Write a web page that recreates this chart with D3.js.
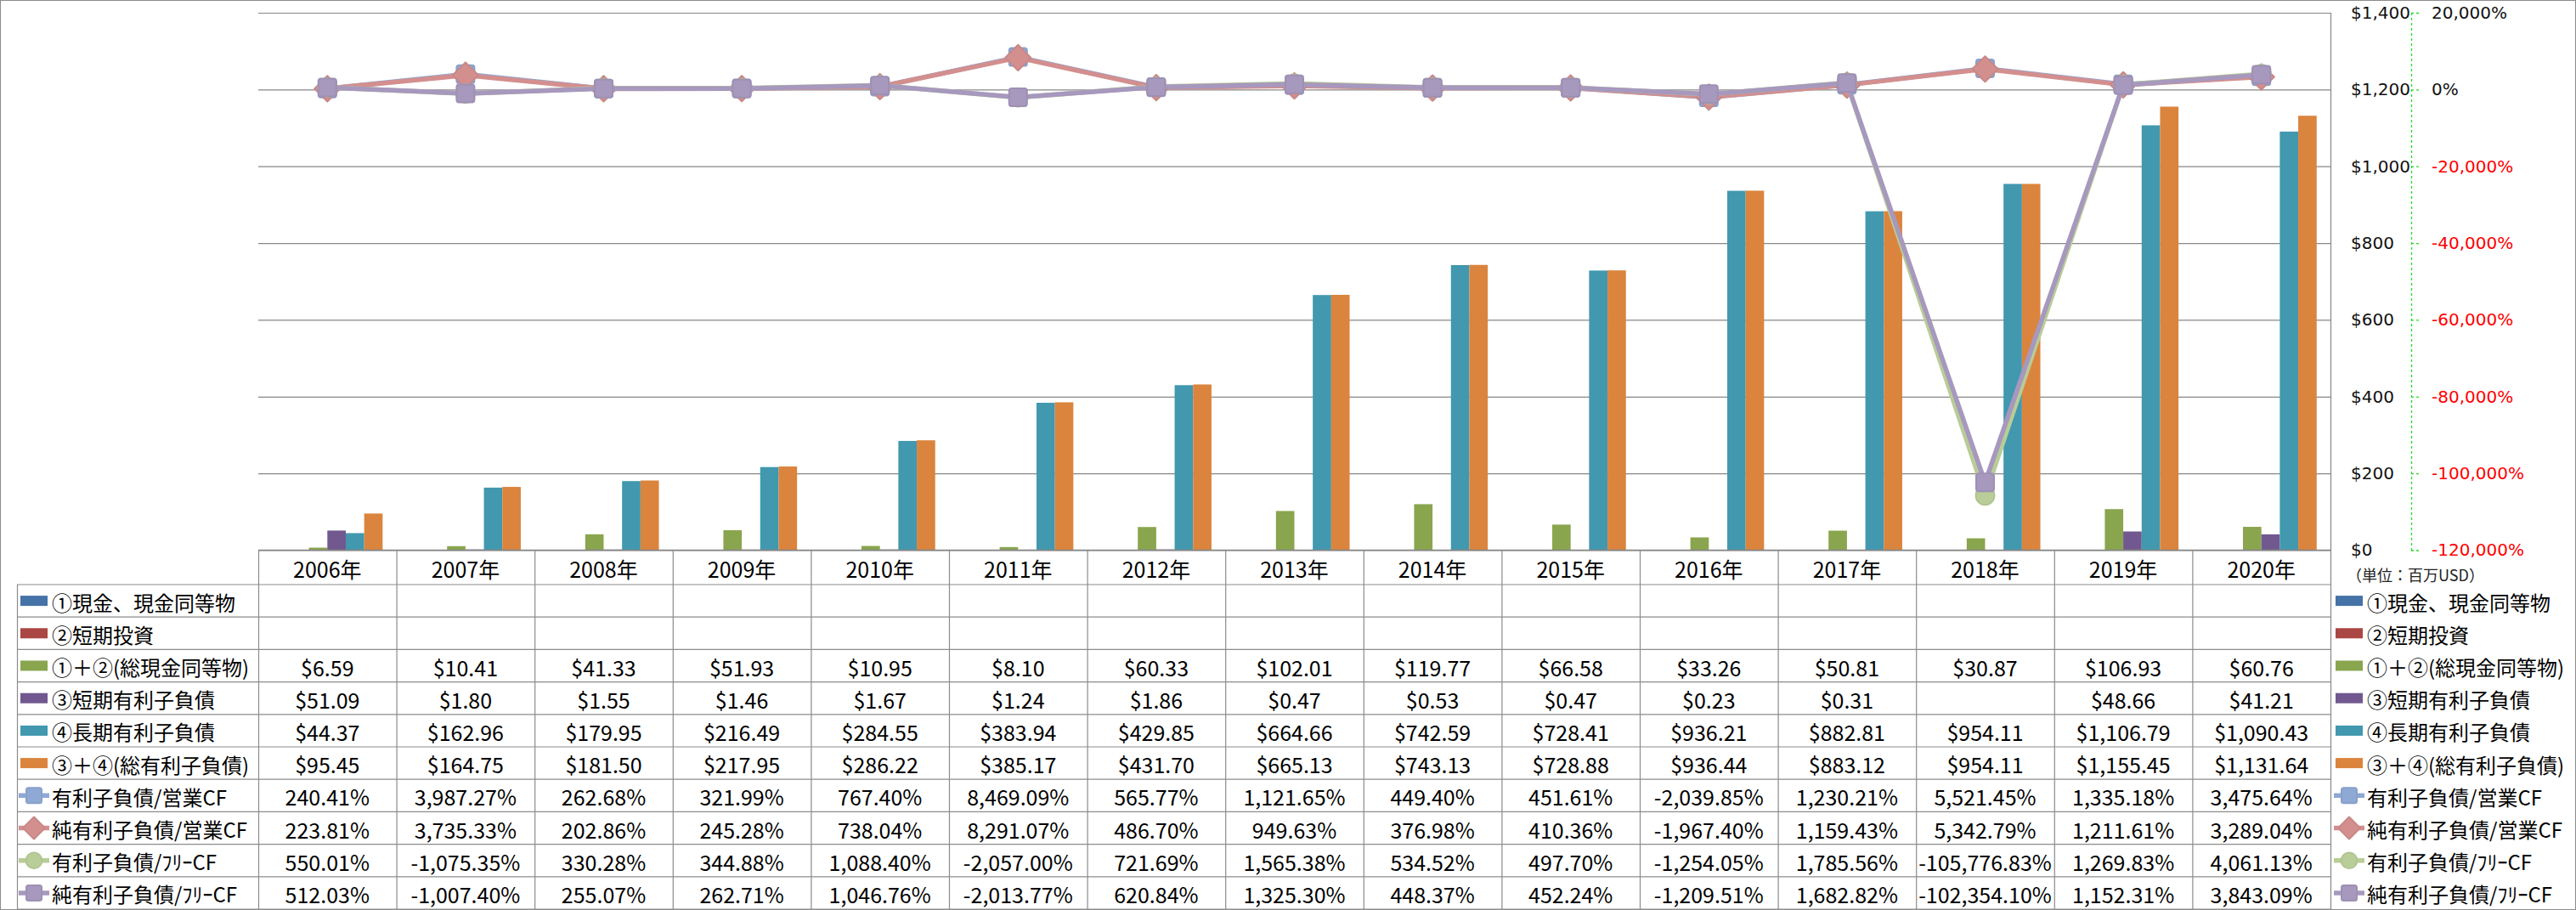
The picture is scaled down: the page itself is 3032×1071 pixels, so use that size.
<!DOCTYPE html>
<html><head><meta charset="utf-8">
<script src="https://cdn.jsdelivr.net/npm/d3@7"></script>
<style>body{margin:0;background:#fff} svg{display:block}</style>
</head><body>
<svg id="c" width="3032" height="1071"></svg>
<script>
// ---------------- data ----------------
const years = ["2006年","2007年","2008年","2009年","2010年","2011年","2012年","2013年","2014年","2015年","2016年","2017年","2018年","2019年","2020年"];
const seriesNames = ["①現金、現金同等物","②短期投資","①＋②(総現金同等物)","③短期有利子負債","④長期有利子負債","③＋④(総有利子負債)",
  "有利子負債/営業CF","純有利子負債/営業CF","有利子負債/ﾌﾘｰCF","純有利子負債/ﾌﾘｰCF"];
const cashEquivalents = [null,null,null,null,null,null,null,null,null,null,null,null,null,null,null];
const shortTermInvest = [null,null,null,null,null,null,null,null,null,null,null,null,null,null,null];
const totalCash = [6.59,10.41,41.33,51.93,10.95,8.10,60.33,102.01,119.77,66.58,33.26,50.81,30.87,106.93,60.76];
const shortTermDebt = [51.09,1.80,1.55,1.46,1.67,1.24,1.86,0.47,0.53,0.47,0.23,0.31,null,48.66,41.21];
const longTermDebt = [44.37,162.96,179.95,216.49,284.55,383.94,429.85,664.66,742.59,728.41,936.21,882.81,954.11,1106.79,1090.43];
const totalDebt = [95.45,164.75,181.50,217.95,286.22,385.17,431.70,665.13,743.13,728.88,936.44,883.12,954.11,1155.45,1131.64];
const debtToOCF = [240.41,3987.27,262.68,321.99,767.40,8469.09,565.77,1121.65,449.40,451.61,-2039.85,1230.21,5521.45,1335.18,3475.64];
const netDebtToOCF = [223.81,3735.33,202.86,245.28,738.04,8291.07,486.70,949.63,376.98,410.36,-1967.40,1159.43,5342.79,1211.61,3289.04];
const debtToFCF = [550.01,-1075.35,330.28,344.88,1088.40,-2057.00,721.69,1565.38,534.52,497.70,-1254.05,1785.56,-105776.83,1269.83,4061.13];
const netDebtToFCF = [512.03,-1007.40,255.07,262.71,1046.76,-2013.77,620.84,1325.30,448.37,452.24,-1209.51,1682.82,-102354.10,1152.31,3843.09];
const leftTicks = [0,200,400,600,800,1000,1200,1400];
const rightTicks = [-120000,-100000,-80000,-60000,-40000,-20000,0,20000];
const unitLabel = "（単位：百万USD）";

const barData = [cashEquivalents, shortTermInvest, totalCash, shortTermDebt, longTermDebt, totalDebt];
const lineData = [debtToOCF, netDebtToOCF, debtToFCF, netDebtToFCF];

// ---------------- styles ----------------
const barColors = ["#4572A7","#AA4643","#89A54E","#71588F","#4198AF","#DB843D"];
const lineColors = ["#8FA9D5","#D38F8E","#B8CD97","#A798BE"];
const markerTypes = ["square","diamond","circle","square"];
const FONT = "'Noto Sans CJK JP','Noto Sans',sans-serif";

const W = 3032, H = 1071;
const plot = {l:304, r:2743, t:15, b:647.5};
const tableTop = 688, rowH = 38.2, tableLeft = 20;
const tableBottom = tableTop + rowH*10;

const loc = d3.formatLocale({decimal:".", thousands:",", grouping:[3], currency:["$",""], minus:"-"});
const fMoney = loc.format("$,.2f");
const fPct = v => loc.format(",.2f")(v) + "%";
const fAxisL = loc.format("$,.0f");
const fAxisR = v => loc.format(",.0f")(v) + "%";

const svg = d3.select("#c");
svg.append("rect").attr("width",W).attr("height",H).attr("fill","#fff");
svg.append("rect").attr("x",0.5).attr("y",0.5).attr("width",W-1).attr("height",H-1)
  .attr("fill","none").attr("stroke","#8c8c8c");

const x = d3.scaleBand().domain(years).range([plot.l, plot.r]);
const bw = x.bandwidth();
const xi = d3.scaleBand().domain(d3.range(barData.length)).range([bw*0.1, bw*0.9]);
const y = d3.scaleLinear().domain([0,1400]).range([plot.b, plot.t]);
const y2 = d3.scaleLinear().domain([-120000,20000]).range([plot.b, plot.t]);

// gridlines + left values axis (drawn at right side)
const gAxL = svg.append("g").attr("transform",`translate(${plot.r},0)`)
  .call(d3.axisRight(y).tickValues(leftTicks).tickSize(-(plot.r-plot.l)).tickSizeOuter(0).tickFormat(fAxisL));
gAxL.select(".domain").remove();
gAxL.selectAll(".tick line").attr("stroke","#878787").attr("stroke-width",1.2);
gAxL.selectAll(".tick text").attr("x",24).attr("text-anchor","start")
  .attr("font-family","'DejaVu Sans',Verdana,sans-serif").attr("font-size",20).attr("fill","#111");

// plot right border
svg.append("line").attr("x1",plot.r+0.5).attr("x2",plot.r+0.5).attr("y1",plot.t).attr("y2",tableBottom)
  .attr("stroke","#878787").attr("stroke-width",1.2);

// secondary axis
const gAxR = svg.append("g").attr("transform",`translate(2838,0)`)
  .call(d3.axisRight(y2).tickValues(rightTicks).tickSize(9).tickSizeOuter(0).tickFormat(fAxisR));
gAxR.select(".domain").attr("stroke","#22dd22").attr("stroke-width",1.3).attr("stroke-dasharray","3,3");
gAxR.selectAll(".tick line").attr("stroke","#22dd22").attr("stroke-width",1.3).attr("stroke-dasharray","3,3");
gAxR.selectAll(".tick text").attr("x",24).attr("text-anchor","start")
  .attr("font-family","'DejaVu Sans',Verdana,sans-serif").attr("font-size",20)
  .attr("fill", d => d < 0 ? "#ff0000" : "#111");

svg.append("text").attr("x",2762).attr("y",676).attr("dominant-baseline","central")
  .attr("font-family",FONT).attr("font-size",18).attr("fill","#222").text(unitLabel);

// bars
barData.forEach((vals, si) => {
  svg.append("g").selectAll("rect").data(vals.map((v,j)=>({v,j})).filter(d=>d.v!=null))
    .join("rect")
    .attr("x", d => x(years[d.j]) + xi(si))
    .attr("width", xi.bandwidth())
    .attr("y", d => y(d.v))
    .attr("height", d => plot.b - y(d.v))
    .attr("fill", barColors[si]);
});

// markers
function marker(g, type, cx, cy, color, s) {
  if (type === "square") {
    g.append("rect").attr("x",cx-s/2).attr("y",cy-s/2).attr("width",s).attr("height",s).attr("rx",s*0.14)
      .attr("fill",color).attr("stroke",d3.color(color).darker(0.15)).attr("stroke-width",2);
  } else if (type === "diamond") {
    const r = s*0.72;
    g.append("path").attr("d",`M${cx},${cy-r}L${cx+r},${cy}L${cx},${cy+r}L${cx-r},${cy}Z`)
      .attr("fill",color).attr("stroke",d3.color(color).darker(0.15)).attr("stroke-width",2).attr("stroke-linejoin","round");
  } else {
    g.append("circle").attr("cx",cx).attr("cy",cy).attr("r",s*0.53)
      .attr("fill",color).attr("stroke",d3.color(color).darker(0.15)).attr("stroke-width",1.5);
  }
}

// lines
lineData.forEach((vals, li) => {
  const g = svg.append("g");
  const line = d3.line().x((d,j)=>x(years[j]) + bw/2).y(d=>y2(d));
  g.append("path").attr("d", line(vals)).attr("fill","none").attr("stroke",lineColors[li])
    .attr("stroke-width",5.5).attr("stroke-linejoin","round");
  vals.forEach((v,j)=> marker(g, markerTypes[li], x(years[j]) + bw/2, y2(v), lineColors[li], 21));
});

// table grid
const tg = svg.append("g").attr("stroke","#8c8c8c").attr("stroke-width",1.2);
for (let k=0;k<=10;k++) {
  const yy = tableTop + k*rowH;
  tg.append("line").attr("x1",tableLeft).attr("x2",plot.r).attr("y1",yy).attr("y2",yy);
}
tg.append("line").attr("x1",tableLeft+0.5).attr("x2",tableLeft+0.5).attr("y1",tableTop).attr("y2",tableBottom);
years.forEach(yr => {
  tg.append("line").attr("x1",x(yr)+0.5).attr("x2",x(yr)+0.5).attr("y1",plot.b).attr("y2",tableBottom);
});
// x axis line
svg.append("line").attr("x1",plot.l).attr("x2",plot.r).attr("y1",plot.b).attr("y2",plot.b)
  .attr("stroke","#878787").attr("stroke-width",1.4);

// year labels
svg.append("g").selectAll("text").data(years).join("text")
  .attr("x", d => x(d) + bw/2).attr("y", (plot.b + tableTop)/2 + 1)
  .attr("text-anchor","middle").attr("dominant-baseline","central")
  .attr("font-family",FONT).attr("font-size",25).attr("fill","#000").text(d=>d);

// legend key drawer
function legendKey(g, idx, kx, cy) {
  if (idx < 6) {
    g.append("rect").attr("x",kx).attr("y",cy-6).attr("width",32).attr("height",12).attr("fill",barColors[idx]);
  } else {
    const li = idx - 6;
    g.append("line").attr("x1",kx-2).attr("x2",kx+34).attr("y1",cy).attr("y2",cy)
      .attr("stroke",lineColors[li]).attr("stroke-width",5.5);
    marker(g, markerTypes[li], kx+16, cy, lineColors[li], 18);
  }
}

const allRows = [...barData, ...lineData];
const lg = svg.append("g");
seriesNames.forEach((name, i) => {
  const cy = tableTop + rowH*i + rowH/2;
  legendKey(lg, i, 24, cy);
  lg.append("text").attr("x",61).attr("y",cy+1).attr("dominant-baseline","central")
    .attr("font-family",FONT).attr("font-size",24).attr("fill","#000").text(name);
  legendKey(lg, i, 2749, cy);
  lg.append("text").attr("x",2786).attr("y",cy+1).attr("dominant-baseline","central")
    .attr("font-family",FONT).attr("font-size",24).attr("fill","#000").text(name);
  const fmt = i < 6 ? fMoney : fPct;
  lg.append("g").selectAll("text").data(allRows[i].map((v,j)=>({v,j})).filter(d=>d.v!=null)).join("text")
    .attr("x", d => x(years[d.j]) + bw/2).attr("y", cy+1)
    .attr("text-anchor","middle").attr("dominant-baseline","central")
    .attr("font-family",FONT).attr("font-size",25).attr("fill","#000").text(d => fmt(d.v));
});
</script>
</body></html>
